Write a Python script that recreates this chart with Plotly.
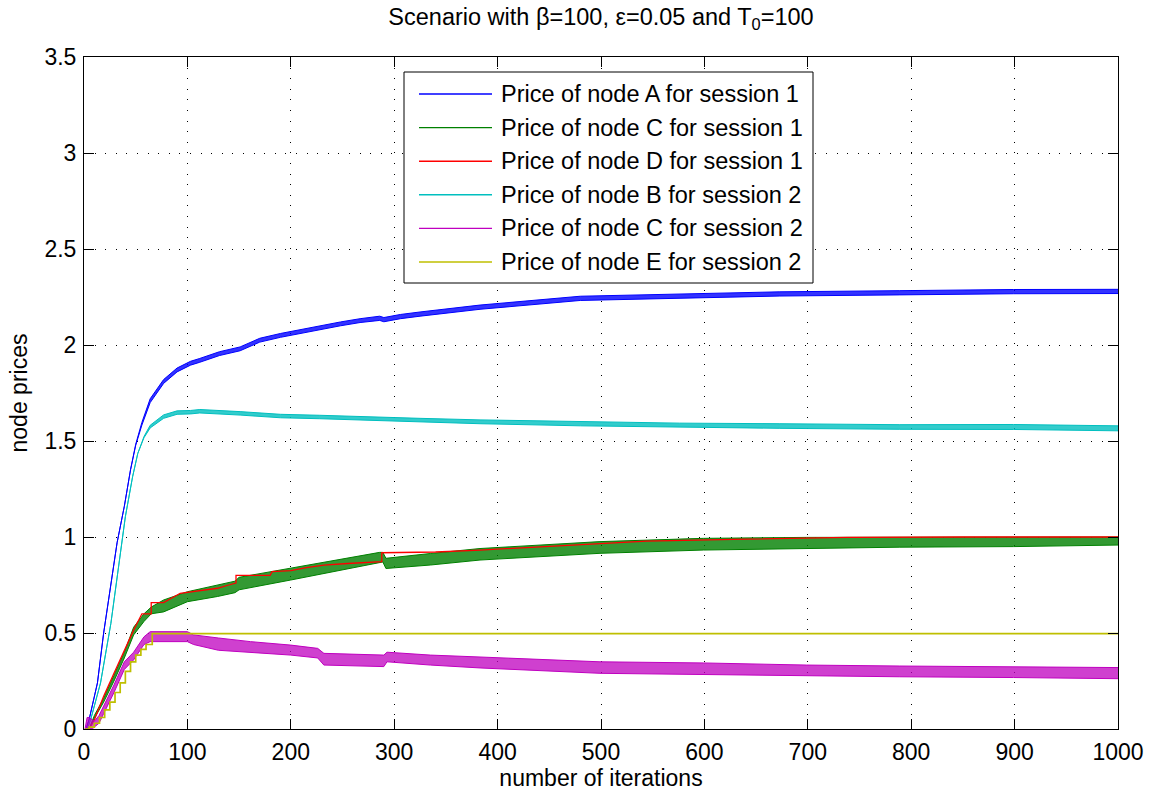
import plotly.graph_objects as go

# ---------------- data ----------------
series_names = [
    "Price of node A for session 1",
    "Price of node C for session 1",
    "Price of node D for session 1",
    "Price of node B for session 2",
    "Price of node C for session 2",
    "Price of node E for session 2",
]
series_colors = ["#0000FF", "#008000", "#FF0000", "#00BFBF", "#BF00BF", "#BFBF00"]

x_ticks = [0, 100, 200, 300, 400, 500, 600, 700, 800, 900, 1000]
x_tick_labels = ["0", "100", "200", "300", "400", "500", "600", "700", "800", "900", "1000"]
y_ticks = [0, 0.5, 1, 1.5, 2, 2.5, 3, 3.5]
y_tick_labels = ["0", "0.5", "1", "1.5", "2", "2.5", "3", "3.5"]

# node A, session 1 (blue) : oscillation band low / high
a1_iter = [1, 2, 5, 13, 19, 26, 32, 39, 45, 50, 56, 64, 77, 90, 103, 112, 131, 151, 170,
           190, 209, 228, 248, 267, 286, 290, 306, 325, 383, 480, 576, 673, 789, 899, 1000]
a1_low = [0, 0, 0.05, 0.24, 0.50, 0.76, 0.97, 1.16, 1.35, 1.477, 1.583, 1.70, 1.80, 1.86,
          1.895, 1.91, 1.945, 1.97, 2.015, 2.04, 2.06, 2.077, 2.10, 2.117, 2.128, 2.121,
          2.137, 2.150, 2.186, 2.232, 2.244, 2.255, 2.261, 2.267, 2.268]
a1_high = [0, 0, 0.05, 0.24, 0.50, 0.76, 0.97, 1.16, 1.35, 1.483, 1.597, 1.72, 1.82, 1.88,
           1.915, 1.93, 1.965, 1.99, 2.035, 2.06, 2.08, 2.097, 2.12, 2.137, 2.150, 2.143,
           2.159, 2.172, 2.208, 2.254, 2.266, 2.277, 2.283, 2.289, 2.290]

# node C, session 1 (green)
c1_iter = [1, 5, 10, 19, 29, 39, 48, 58, 65, 77, 100, 129, 146, 150, 200, 232, 286, 289,
           292, 335, 383, 499, 599, 699, 789, 899, 1000]
c1_low = [0, 0, 0.055, 0.14, 0.25, 0.37, 0.49, 0.56, 0.60, 0.61, 0.663, 0.69, 0.71, 0.725,
          0.776, 0.81, 0.870, 0.870, 0.836, 0.854, 0.880, 0.915, 0.932, 0.940, 0.947, 0.950, 0.958]
c1_high = [0, 0, 0.07, 0.16, 0.28, 0.40, 0.53, 0.60, 0.635, 0.672, 0.715, 0.752, 0.77, 0.79,
           0.838, 0.87, 0.920, 0.920, 0.889, 0.914, 0.940, 0.976, 0.993, 0.998, 0.998, 0.998, 1.0]

# node D, session 1 (red) : stepwise price
d1_iter = [1, 6, 10, 14.5, 19, 29, 39, 48, 56, 65, 65, 77, 93, 110, 129, 140, 147, 147, 180,
           182, 200, 215, 232, 255, 277, 288, 288, 340, 383, 450, 499, 544, 628, 738, 850, 1000]
d1_price = [0, 0.01, 0.047, 0.11, 0.17, 0.29, 0.41, 0.515, 0.60, 0.60, 0.658, 0.658, 0.707,
            0.72, 0.733, 0.75, 0.76, 0.80, 0.80, 0.82, 0.825, 0.84, 0.854, 0.862, 0.870,
            0.872, 0.918, 0.922, 0.932, 0.950, 0.967, 0.979, 0.988, 0.998, 1.0, 1.0]

# node B, session 2 (cyan)
b2_iter = [1, 3, 6.5, 16, 26, 34, 40, 47, 52, 58, 64, 77, 90, 103, 112, 151, 190, 228, 267,
           305, 325, 383, 480, 576, 673, 789, 899, 1000]
b2_low = [0, 0, 0.05, 0.24, 0.55, 0.86, 1.106, 1.314, 1.435, 1.517, 1.568, 1.618, 1.639,
          1.641, 1.646, 1.635, 1.621, 1.616, 1.609, 1.604, 1.600, 1.590, 1.579, 1.571, 1.566,
          1.561, 1.560, 1.553]
b2_high = [0, 0, 0.05, 0.24, 0.55, 0.86, 1.106, 1.314, 1.435, 1.523, 1.582, 1.636, 1.657,
           1.659, 1.664, 1.653, 1.639, 1.634, 1.627, 1.622, 1.618, 1.610, 1.601, 1.593, 1.590,
           1.585, 1.586, 1.579]

# node C, session 2 (magenta)
c2_iter = [1, 3, 5, 8, 10, 14.5, 19, 29, 39, 48, 58, 64, 100, 106, 130, 161, 200, 226, 232,
           290, 293, 335, 383, 499, 599, 699, 789, 899, 1000]
c2_low = [0, 0, 0, 0, 0.01, 0.03, 0.08, 0.19, 0.31, 0.36, 0.44, 0.455, 0.455, 0.44, 0.41,
          0.40, 0.385, 0.37, 0.333, 0.325, 0.35, 0.333, 0.318, 0.29, 0.283, 0.278, 0.272,
          0.268, 0.262]
c2_high = [0, 0.06, 0.06, 0.05, 0.04, 0.07, 0.12, 0.23, 0.35, 0.40, 0.48, 0.507, 0.507, 0.49,
           0.474, 0.455, 0.437, 0.42, 0.394, 0.385, 0.40, 0.385, 0.375, 0.35, 0.344, 0.333,
           0.328, 0.325, 0.32]

# node E, session 2 (yellow) : stepwise price
e2_iter = [1, 5, 10, 15, 20, 25, 30, 35, 40, 45, 50, 55, 60, 66, 1000]
e2_price = [0, 0.01, 0.03, 0.06, 0.10, 0.14, 0.19, 0.24, 0.30, 0.35, 0.385, 0.415, 0.44,
            0.497, 0.497]

title_text = "Scenario with β=100, ε=0.05 and T<sub>0</sub>=100"
x_title = "number of iterations"
y_title = "node prices"

# ---------------- figure ----------------
FONT = "Liberation Sans, Arial, Helvetica, sans-serif"
W, H = 1163, 793
L, R, T, B = 84, 1118, 57, 729   # plot area in pixels

fig = go.Figure()


def rgba(hexcol, a):
    h = hexcol.lstrip("#")
    return "rgba(%d,%d,%d,%.2f)" % (int(h[0:2], 16), int(h[2:4], 16), int(h[4:6], 16), a)


def add_band(xs, lo, hi, name, color, alpha):
    fig.add_trace(go.Scatter(x=xs, y=lo, mode="lines", name=name, legendgroup=name,
                             line=dict(color=color, width=1), showlegend=False,
                             hoverinfo="skip"))
    fig.add_trace(go.Scatter(x=xs, y=hi, mode="lines", name=name, legendgroup=name,
                             line=dict(color=color, width=1), fill="tonexty",
                             fillcolor=rgba(color, alpha), showlegend=False))


def add_line(xs, ys, name, color, width, shape="linear"):
    fig.add_trace(go.Scatter(x=xs, y=ys, mode="lines", name=name,
                             line=dict(color=color, width=width, shape=shape),
                             showlegend=False))


add_band(a1_iter, a1_low, a1_high, series_names[0], series_colors[0], 0.8)
add_band(c1_iter, c1_low, c1_high, series_names[1], series_colors[1], 0.8)
add_line(d1_iter, d1_price, series_names[2], series_colors[2], 1.3)
add_band(b2_iter, b2_low, b2_high, series_names[3], series_colors[3], 0.8)
add_band(c2_iter, c2_low, c2_high, series_names[4], series_colors[4], 0.75)
add_line(e2_iter, e2_price, series_names[5], series_colors[5], 1.7, shape="hv")

axis_common = dict(
    showline=True, linecolor="black", linewidth=1, mirror="ticks",
    ticks="inside", ticklen=10, tickcolor="black", tickwidth=1,
    showgrid=True, gridcolor="black", gridwidth=1, griddash="1px,9.6px",
    zeroline=False, automargin=False,
    tickfont=dict(family=FONT, size=23, color="black"),
)

fig.update_layout(
    width=W, height=H,
    margin=dict(l=L, r=W - R, t=T, b=H - B, pad=0, autoexpand=False),
    paper_bgcolor="white", plot_bgcolor="white",
    font=dict(family=FONT, size=23, color="black"),
    title=dict(text=title_text, x=(L + R) / 2 / W, xanchor="center",
               y=1 - 17 / H, yanchor="middle", yref="container",
               font=dict(family=FONT, size=23.5, color="black")),
    xaxis=dict(range=[0, 1000], tickvals=x_ticks, ticktext=x_tick_labels,
               ticklabelstandoff=2,
               title=dict(text=x_title, standoff=4,
                          font=dict(family=FONT, size=23, color="black")),
               **axis_common),
    yaxis=dict(range=[0, 3.5], tickvals=y_ticks, ticktext=y_tick_labels,
               ticklabelstandoff=2,
               title=dict(text=y_title, standoff=10,
                          font=dict(family=FONT, size=23, color="black")),
               **axis_common),
    showlegend=False,
)

# ---------------- legend (MATLAB style box) ----------------
def px2paper_x(px):
    return (px - L) / (R - L)


def px2paper_y(py):
    return (B - py) / (B - T)


box_l, box_r, box_t, box_b = 404, 813, 72, 283
fig.add_shape(type="rect", xref="paper", yref="paper",
              x0=px2paper_x(box_l), x1=px2paper_x(box_r),
              y0=px2paper_y(box_b), y1=px2paper_y(box_t),
              line=dict(color="black", width=1), fillcolor="white", layer="above")
row0, row_step = 94, 33.6
for i, (nm, col) in enumerate(zip(series_names, series_colors)):
    yy = px2paper_y(row0 + row_step * i)
    fig.add_shape(type="line", xref="paper", yref="paper",
                  x0=px2paper_x(419), x1=px2paper_x(492), y0=yy, y1=yy,
                  line=dict(color=col, width=1.4), layer="above")
    fig.add_annotation(xref="paper", yref="paper", x=px2paper_x(499), y=yy,
                       xanchor="left", yanchor="middle", text=nm, showarrow=False,
                       font=dict(family=FONT, size=23.5, color="black"))

fig.write_html("out.html")
